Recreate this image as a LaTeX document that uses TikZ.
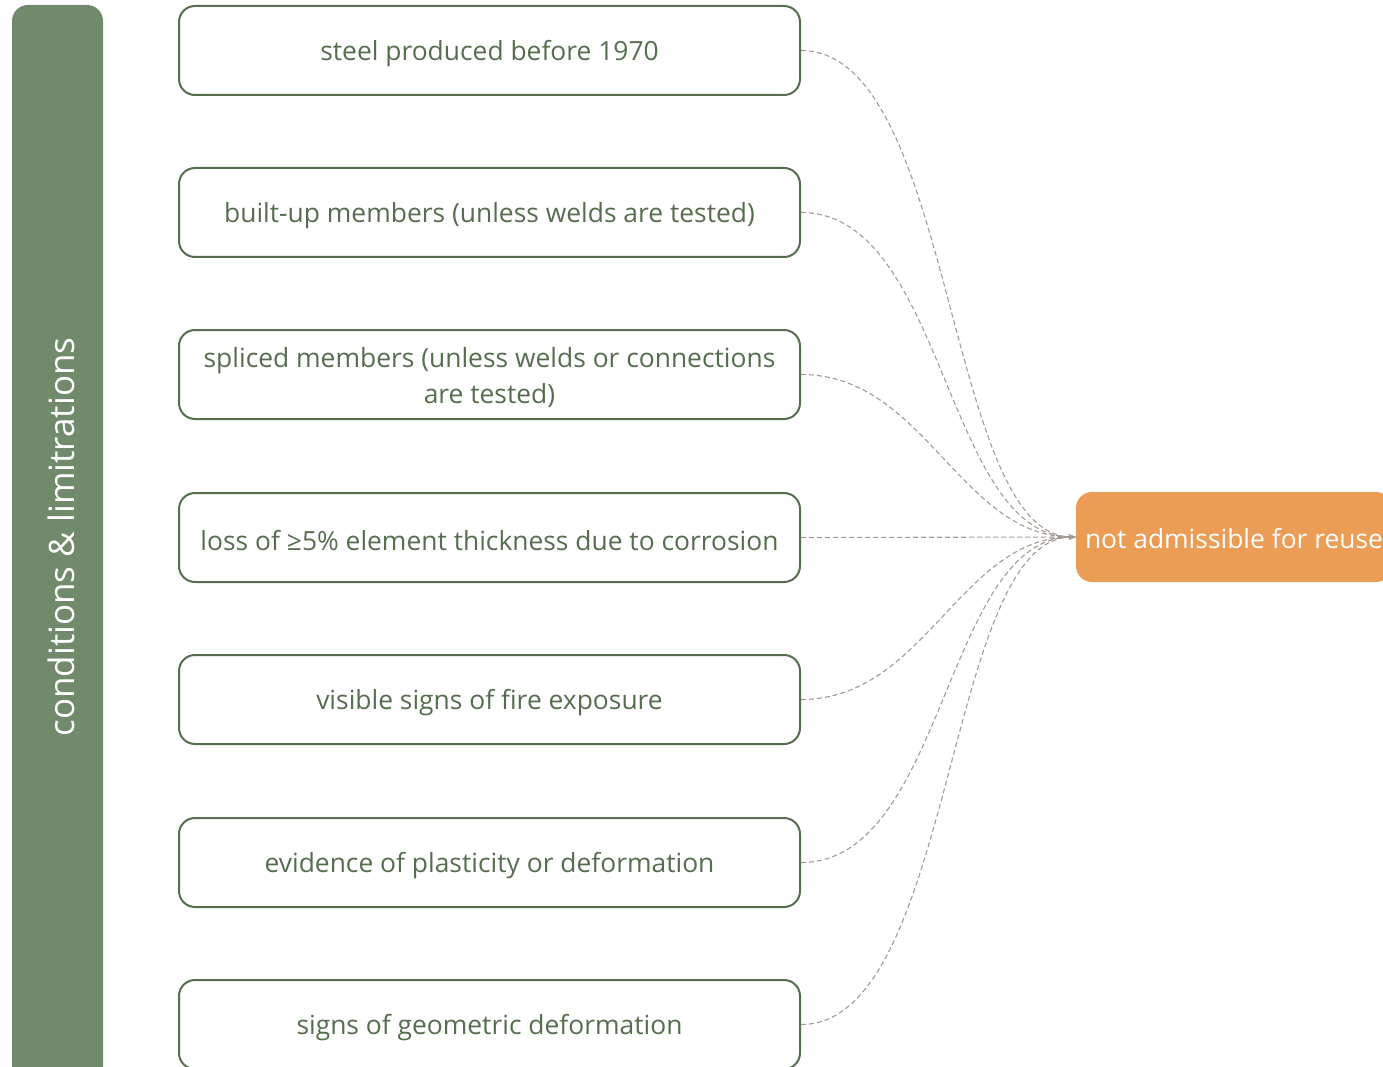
\documentclass[tikz,border=0pt]{standalone}
\usepackage{fontspec}
\setmainfont{Open Sans}
\usetikzlibrary{arrows.meta}
\definecolor{sage}{HTML}{718A6C}
\definecolor{leaf}{HTML}{566E4F}
\definecolor{amber}{HTML}{EB9C55}
\definecolor{ash}{HTML}{A39B91}
\begin{document}
\begin{tikzpicture}[x=1pt,y=-1pt,
  cond/.style={draw=leaf, line width=2pt, rounded corners=16pt, fill=white,
    minimum width=621pt, minimum height=89pt, inner sep=0pt},
  condtext/.style={text=leaf, align=center, inner sep=0pt, yshift=-3pt,
    font=\fontsize{26.4}{36}\selectfont},
  link/.style={draw=ash, line width=1.1pt, dash pattern=on 5pt off 3pt,
    -{Stealth[length=7pt,width=5pt,fill=ash]}},
]
\useasboundingbox (0,0) rectangle (1383,1067);
\clip (0,0) rectangle (1383,1067);

% side bar with its rotated title
\fill[sage, rounded corners=16pt] (12,5) rectangle (103,1100);
\node[text=white, rotate=90, font=\fontsize{35}{40}\selectfont] (side) at (61,537) {conditions \& limitrations};

% condition boxes
\node[cond] (c1) at (489.5,50.5) {};
\node[cond] (c2) at (489.5,212.5) {};
\node[cond] (c3) at (489.5,374.5) {};
\node[cond] (c4) at (489.5,537.5) {};
\node[cond] (c5) at (489.5,699.5) {};
\node[cond] (c6) at (489.5,862.5) {};
\node[cond] (c7) at (489.5,1024.5) {};

% their captions
\node[condtext] (t1) at (c1.center) {steel produced before 1970};
\node[condtext] (t2) at (c2.center) {built-up members (unless welds are tested)};
\node[condtext] (t3) at (c3.center) {spliced members (unless welds or connections\\are tested)};
\node[condtext] (t4) at (c4.center) {loss of ≥5\% element thickness due to corrosion};
\node[condtext] (t5) at (c5.center) {visible signs of fire exposure};
\node[condtext] (t6) at (c6.center) {evidence of plasticity or deformation};
\node[condtext] (t7) at (c7.center) {signs of geometric deformation};

% outcome
\node[fill=amber, rounded corners=16pt, minimum width=316pt, minimum height=90pt,
  inner sep=0pt] (out) at (1234,537) {};
\node[text=white, font=\fontsize{26.4}{30}\selectfont, inner sep=0pt, yshift=-2pt]
  (outtext) at (out.center) {not admissible for reuse};
\coordinate (tip) at (out.west);

% connectors
\draw[link] (c1.east) .. controls (955,50.5) and (945,537) .. (tip);
\draw[link] (c2.east) .. controls (945,212.5) and (945,537) .. (tip);
\draw[link] (c3.east) .. controls (925,374.5) and (960,537) .. (tip);
\draw[link] (c4.east) -- (tip);
\draw[link] (c5.east) .. controls (925,699.5) and (960,537) .. (tip);
\draw[link] (c6.east) .. controls (945,862.5) and (945,537) .. (tip);
\draw[link] (c7.east) .. controls (955,1024.5) and (945,537) .. (tip);
\end{tikzpicture}
\end{document}
